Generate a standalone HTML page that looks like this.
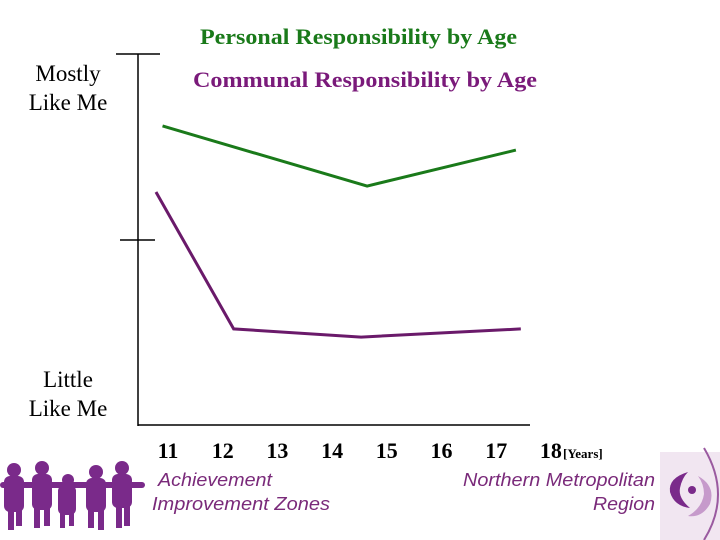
<!DOCTYPE html>
<html><head><meta charset="utf-8"><style>
body{margin:0;background:#fff;}
svg{display:block;font-family:"Liberation Serif",serif;}
</style></head><body>
<svg width="720" height="540" viewBox="0 0 720 540">
<text x="200" y="44" textLength="317" lengthAdjust="spacingAndGlyphs" font-size="22" font-weight="bold" fill="#1a7a1a">Personal Responsibility by Age</text>
<text x="193" y="87" textLength="344" lengthAdjust="spacingAndGlyphs" font-size="22" font-weight="bold" fill="#7a1a7a">Communal Responsibility by Age</text>
<g font-size="23" fill="#000" text-anchor="middle">
<text x="68" y="81">Mostly</text>
<text x="68" y="110">Like Me</text>
<text x="68" y="387">Little</text>
<text x="68" y="416">Like Me</text>
</g>
<line x1="138" y1="54" x2="138" y2="426" stroke="#000" stroke-width="1.5"/>
<line x1="138" y1="425" x2="530" y2="425" stroke="#000" stroke-width="1.5"/>
<line x1="116" y1="54" x2="160" y2="54" stroke="#000" stroke-width="1.5"/>
<line x1="120" y1="240" x2="155" y2="240" stroke="#000" stroke-width="1.5"/>
<g id="xt"></g>
<g id="series"></g>
<text x="563" y="458" font-size="13" font-weight="bold">[Years]</text>
<g>
<rect x="660" y="452" width="60" height="88" fill="#f1e6f1"/>
<path d="M704 448 Q732 495 704 540" stroke="#9a5aa0" stroke-width="2" fill="none"/>
<path d="M688 472 Q668 478 670 492 Q674 506 690 508 Q678 498 680 488 Q682 478 688 472Z" fill="#7a2a8a"/>
<circle cx="692" cy="490" r="4" fill="#7a2a8a"/>
<path d="M698 476 Q716 486 710 504 Q702 518 688 516 Q702 508 704 494 Q704 484 698 476Z" fill="#c69acb"/>
</g>
<g fill="#7a2a7a" font-family="Liberation Sans, sans-serif" font-style="italic" font-size="18">
<text x="158" y="486" textLength="114" lengthAdjust="spacingAndGlyphs">Achievement</text>
<text x="152" y="510" textLength="178" lengthAdjust="spacingAndGlyphs">Improvement Zones</text>
<text x="463" y="486" textLength="192" lengthAdjust="spacingAndGlyphs">Northern Metropolitan</text>
<text x="593" y="510" textLength="62" lengthAdjust="spacingAndGlyphs">Region</text>
</g>
<g fill="#7a2a8a">
<circle cx="14" cy="470" r="7"/><rect x="4" y="476" width="20" height="36" rx="6"/><rect x="8" y="508" width="6" height="22"/><rect x="16" y="508" width="6" height="18"/>
<circle cx="42" cy="468" r="7"/><rect x="32" y="474" width="20" height="36" rx="6"/><rect x="34" y="506" width="6" height="22"/><rect x="44" y="506" width="6" height="20"/>
<circle cx="68" cy="480" r="6"/><rect x="58" y="485" width="18" height="30" rx="6"/><rect x="60" y="512" width="5" height="16"/><rect x="69" y="512" width="5" height="14"/>
<circle cx="96" cy="472" r="7"/><rect x="86" y="478" width="20" height="34" rx="6"/><rect x="88" y="508" width="6" height="20"/><rect x="98" y="508" width="6" height="22"/>
<circle cx="122" cy="468" r="7"/><rect x="112" y="474" width="20" height="34" rx="6"/><rect x="116" y="506" width="6" height="22"/><rect x="124" y="506" width="6" height="20"/>
<rect x="0" y="482" width="145" height="6" rx="3"/>
</g>
</svg>
<script>
const ages = [11,12,13,14,15,16,17,18];
const personalX = [10.9, 14.64, 17.36];
const personalY = [80.6, 64.4, 74.1];
const communalX = [10.78, 12.2, 14.53, 17.45];
const communalY = [62.8, 25.9, 23.7, 25.9];
function sx(a){return 168 + (a-11)*54.7;}
function sy(v){return 425 - v*3.71;}
const NS="http://www.w3.org/2000/svg";
const xt=document.getElementById('xt');
ages.forEach(a=>{
  const t=document.createElementNS(NS,'text');
  t.setAttribute('x',sx(a));t.setAttribute('y',458);
  t.setAttribute('text-anchor','middle');t.setAttribute('font-size','22');
  t.setAttribute('font-weight','bold');
  t.textContent=a;
  
  
  xt.appendChild(t);
});
const g=document.getElementById('series');
function line(xs,ys,color,name){
  const p=document.createElementNS(NS,'polyline');
  p.setAttribute('points',xs.map((x,i)=>sx(x)+','+sy(ys[i])).join(' '));
  p.setAttribute('fill','none');p.setAttribute('stroke',color);p.setAttribute('stroke-width','3');
  
  
  g.appendChild(p);
}
line(personalX,personalY,'#1a7a1a','personal-line');
line(communalX,communalY,'#6a1a6a','communal-line');
</script>
</body></html>
